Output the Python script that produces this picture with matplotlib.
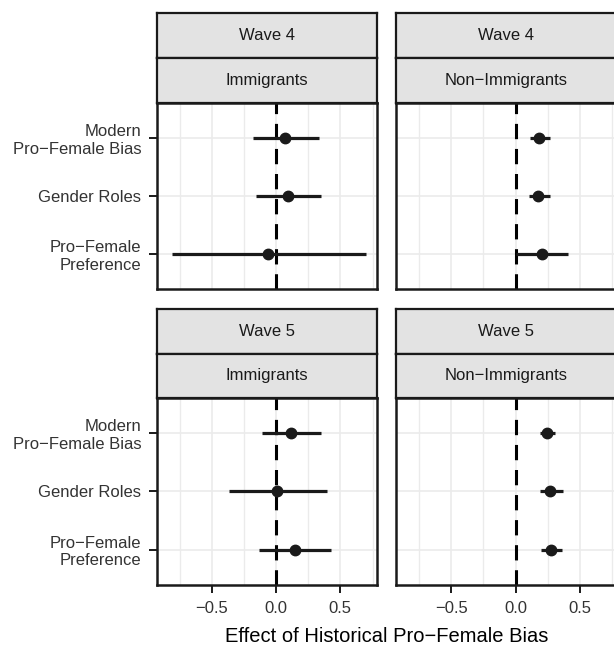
"""Coefficient plot of historical pro-female bias effects by wave and immigrant status."""

import matplotlib

matplotlib.use("Agg")
import matplotlib.pyplot as plt
from matplotlib.ticker import FixedLocator

plt.rcParams["font.family"] = ["Liberation Sans", "DejaVu Sans"]

# data
outcomes = ["Modern\nPro\u2212Female Bias", "Gender Roles", "Pro\u2212Female\nPreference"]
waves = ["Wave 4", "Wave 5"]
groups = ["Immigrants", "Non\u2212Immigrants"]

est_w4_imm = [0.07, 0.09, -0.06]
lo_w4_imm = [-0.176, -0.155, -0.806]
hi_w4_imm = [0.336, 0.346, 0.70]

est_w4_non = [0.186, 0.178, 0.205]
lo_w4_non = [0.114, 0.104, 0.0]
hi_w4_non = [0.27, 0.264, 0.41]

est_w5_imm = [0.114, 0.005, 0.147]
lo_w5_imm = [-0.106, -0.367, -0.129]
hi_w5_imm = [0.346, 0.393, 0.43]

est_w5_non = [0.246, 0.271, 0.277]
lo_w5_non = [0.19, 0.19, 0.2]
hi_w5_non = [0.31, 0.367, 0.36]

x_ticks = [-0.5, 0.0, 0.5]
x_minor = [-0.75, -0.25, 0.25, 0.75]

panel_data = {
    (0, 0): (est_w4_imm, lo_w4_imm, hi_w4_imm),
    (0, 1): (est_w4_non, lo_w4_non, hi_w4_non),
    (1, 0): (est_w5_imm, lo_w5_imm, hi_w5_imm),
    (1, 1): (est_w5_non, lo_w5_non, hi_w5_non),
}

W, H = 614, 646
fig = plt.figure(figsize=(W / 100, H / 100), dpi=100)


def px_axes(x0, y0, x1, y1):
    return fig.add_axes([x0 / W, 1 - y1 / H, (x1 - x0) / W, (y1 - y0) / H])


def strip(x0, y0, x1, y1, label):
    ax = px_axes(x0, y0, x1, y1)
    ax.set_facecolor("#E3E3E3")
    ax.set_xticks([])
    ax.set_yticks([])
    for s in ax.spines.values():
        s.set_linewidth(1.6)
        s.set_color("#1A1A1A")
    ax.text(0.5, 0.5, label, transform=ax.transAxes, ha="center", va="center",
            fontsize=12, color="#1A1A1A")
    return ax


col_x = [(156.5, 377.0), (396.0, 616.5)]
row_y = [(13.0, 58.0, 103.0, 288.5), (309.0, 353.5, 398.0, 584.5)]
ypos = [3, 2, 1]

for r in range(2):
    for c in range(2):
        x0, x1 = col_x[c]
        s0, s1, p0, p1 = row_y[r]
        strip(x0, s0, x1, s1, waves[r])
        strip(x0, s1, x1, p0, groups[c])
        ax = px_axes(x0, p0, x1, p1)
        est, lo, hi = panel_data[(r, c)]

        ax.set_xlim(-0.93, 0.785)
        ax.set_ylim(0.4, 3.6)
        ax.xaxis.set_major_locator(FixedLocator(x_ticks))
        ax.xaxis.set_minor_locator(FixedLocator(x_minor))
        ax.set_yticks(ypos)
        ax.grid(True, which="major", color="#EBEBEB", lw=1.2)
        ax.grid(True, which="minor", axis="x", color="#EBEBEB", lw=1.0)
        ax.set_axisbelow(True)
        ax.tick_params(which="minor", length=0)
        ax.tick_params(which="major", length=6, width=1.4, color="#1A1A1A",
                       labelsize=12, labelcolor="#333333")
        ax.tick_params(axis="x", pad=6)
        ax.tick_params(axis="y", pad=5)

        ax.axvline(0, color="black", lw=2.2, linestyle=(0, (5, 3.2)), zorder=2)
        ax.hlines(ypos, lo, hi, color="#1A1A1A", lw=2.3, zorder=3)
        ax.plot(est, ypos, "o", color="#1A1A1A", ms=7.5, zorder=4)

        for s in ax.spines.values():
            s.set_linewidth(1.8)
            s.set_color("#1A1A1A")

        if c == 0:
            ax.set_yticklabels(outcomes, fontsize=12, color="#333333")
        else:
            ax.tick_params(axis="y", left=False, labelleft=False)
        if r == 0:
            ax.tick_params(axis="x", bottom=False, labelbottom=False)
        else:
            ax.set_xticklabels(["\u22120.5", "0.0", "0.5"])

fig.text((156.5 + 616.5) / 2 / W, 1 - 636 / H, "Effect of Historical Pro\u2212Female Bias",
         ha="center", va="center", fontsize=14.5, color="black")

fig.savefig("out.png", dpi=100)
